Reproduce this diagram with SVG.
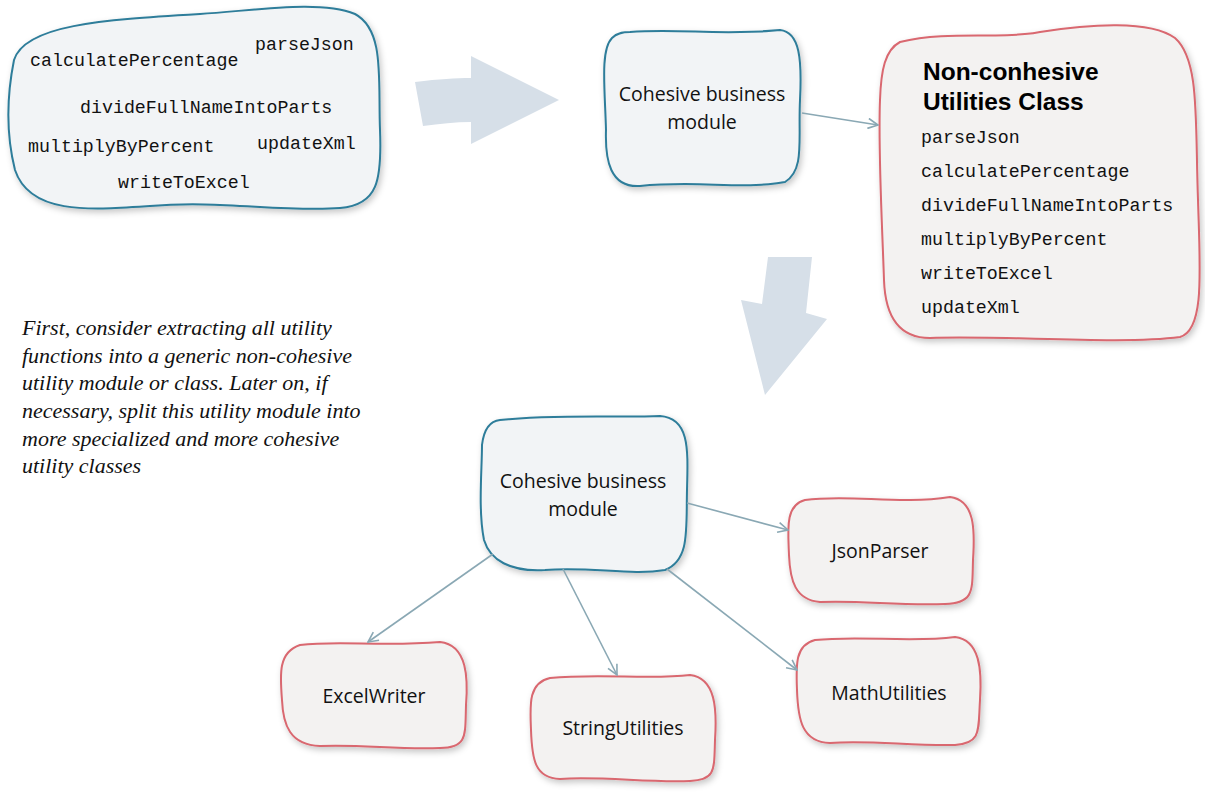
<svg xmlns="http://www.w3.org/2000/svg" width="1205" height="793" viewBox="0 0 1205 793">
<defs>
<filter id="sh" x="-10%" y="-10%" width="130%" height="130%">
<feDropShadow dx="2" dy="3" stdDeviation="3" flood-color="#000" flood-opacity="0.22"/>
</filter>
<marker id="ah" viewBox="0 0 12 12" refX="11" refY="6" markerWidth="12" markerHeight="12" markerUnits="userSpaceOnUse" orient="auto">
<path d="M1,1 L11,6 L1,11" fill="none" stroke="#8aa8b4" stroke-width="1.6"/>
</marker>
</defs>
<style>
.blue{fill:#f2f4f6;stroke:#2e7d9a;stroke-width:2;filter:url(#sh)}
.red{fill:#f3f2f1;stroke:#d9676f;stroke-width:2;filter:url(#sh)}
.mono{font-family:"Liberation Mono","Courier New",monospace;font-size:18.3px;fill:#111}
.lbl{font-family:"Open Sans","Noto Sans",sans-serif;font-size:19.5px;fill:#111;text-anchor:middle}
.title{font-family:"Liberation Sans",Arial,sans-serif;font-size:24.5px;font-weight:bold;fill:#000}
.note{font-family:"Liberation Serif","Times New Roman",serif;font-style:italic;font-size:22px;fill:#111}
.conn{stroke:#8aa8b4;stroke-width:1.6;fill:none;marker-end:url(#ah)}
.big{fill:#d6dfe8}
</style>

<g id="big-arrows">
<path class="big" d="M415,82 C440,79 455,78 471,78 L471,56 L559,100 L471,144 L471,122 C455,122 440,124 423,126 Z"/>
<path class="big" d="M768,257 L812,257 L806,313 L827,319 L765,395 L741,300 L762,304 Z"/>
</g>

<g id="utility-functions">
<path class="blue" d="M14,60 C25,25 100,20 200,14 C260,10 320,0 355,14 C385,30 378,80 380,130 C382,180 378,205 340,208 C280,212 220,200 150,206 C90,210 30,215 15,170 C5,130 8,90 14,60 Z"/>
<text class="mono" x="30" y="66">calculatePercentage</text>
<text class="mono" x="255" y="50">parseJson</text>
<text class="mono" x="80" y="113">divideFullNameIntoParts</text>
<text class="mono" x="28" y="152">multiplyByPercent</text>
<text class="mono" x="257" y="149">updateXml</text>
<text class="mono" x="118" y="188">writeToExcel</text>
</g>

<g id="cohesive-top">
<path class="blue" d="M630,32 C680,28 720,36 780,30 C800,32 802,60 800,100 C798,140 805,170 785,182 C740,190 700,180 640,186 C610,188 605,160 606,130 C605,90 600,50 612,38 C618,32 625,32 630,32 Z"/>
<text class="lbl" x="702" y="101">Cohesive business</text>
<text class="lbl" x="702" y="129">module</text>
</g>

<g id="non-cohesive">
<path class="red" d="M900,42 C950,30 1000,40 1040,32 C1090,24 1150,20 1175,38 C1200,60 1195,120 1198,200 C1200,270 1205,330 1180,337 C1120,345 1000,335 930,338 C895,338 885,310 884,280 C882,220 878,150 880,100 C881,70 885,50 900,42 Z"/>
<text class="title" x="923" y="80">Non-conhesive</text>
<text class="title" x="923" y="110">Utilities Class</text>
<text class="mono" x="921" y="143">parseJson</text>
<text class="mono" x="921" y="177">calculatePercentage</text>
<text class="mono" x="921" y="211">divideFullNameIntoParts</text>
<text class="mono" x="921" y="245">multiplyByPercent</text>
<text class="mono" x="921" y="279">writeToExcel</text>
<text class="mono" x="921" y="313">updateXml</text>
</g>

<g id="note">
<text class="note" x="22" y="335">First, consider extracting all utility</text>
<text class="note" x="22" y="363">functions into a generic non-cohesive</text>
<text class="note" x="22" y="390">utility module or class. Later on, if</text>
<text class="note" x="22" y="418">necessary, split this utility module into</text>
<text class="note" x="22" y="446">more specialized and more cohesive</text>
<text class="note" x="22" y="473">utility classes</text>
</g>

<g id="cohesive-bottom">
<path class="blue" d="M500,420 C560,414 620,418 660,416 C690,418 688,450 687,490 C686,530 690,560 665,570 C630,576 590,566 545,570 C510,572 490,560 484,540 C478,510 482,470 482,445 C484,428 490,421 500,420 Z"/>
<text class="lbl" x="583" y="488">Cohesive business</text>
<text class="lbl" x="583" y="516">module</text>
</g>

<g id="json-parser">
<path class="red" d="M805,500 C850,494 900,505 950,497 C975,500 975,530 973,560 C972,590 975,603 945,604 C900,606 860,600 820,602 C795,600 790,580 789,555 C788,530 785,505 805,500 Z"/>
<text class="lbl" x="880" y="558">JsonParser</text>
</g>

<g id="math-utilities">
<path class="red" d="M815,640 C860,635 910,643 955,637 C980,640 982,670 980,700 C978,730 982,743 955,745 C910,746 870,740 830,743 C802,742 798,720 797,690 C796,665 795,645 815,640 Z"/>
<text class="lbl" x="889" y="700">MathUtilities</text>
</g>

<g id="excel-writer">
<path class="red" d="M300,645 C340,640 380,647 440,642 C468,645 468,680 466,705 C465,735 468,748 440,748 C400,750 360,744 320,746 C290,745 283,725 282,700 C280,675 278,652 300,645 Z"/>
<text class="lbl" x="374" y="703">ExcelWriter</text>
</g>

<g id="string-utilities">
<path class="red" d="M550,678 C600,673 650,680 690,675 C716,678 717,710 715,740 C714,770 716,780 690,781 C650,783 600,776 560,779 C535,778 532,760 531,730 C530,705 528,683 550,678 Z"/>
<text class="lbl" x="623" y="735">StringUtilities</text>
</g>

<g id="connectors">
<line class="conn" x1="802" y1="113" x2="878" y2="125"/>
<line class="conn" x1="687" y1="503" x2="788" y2="530"/>
<line class="conn" x1="667" y1="569" x2="797" y2="670"/>
<line class="conn" x1="493" y1="554" x2="368" y2="642"/>
<line class="conn" x1="563" y1="569" x2="617" y2="675"/>
</g>
</svg>
